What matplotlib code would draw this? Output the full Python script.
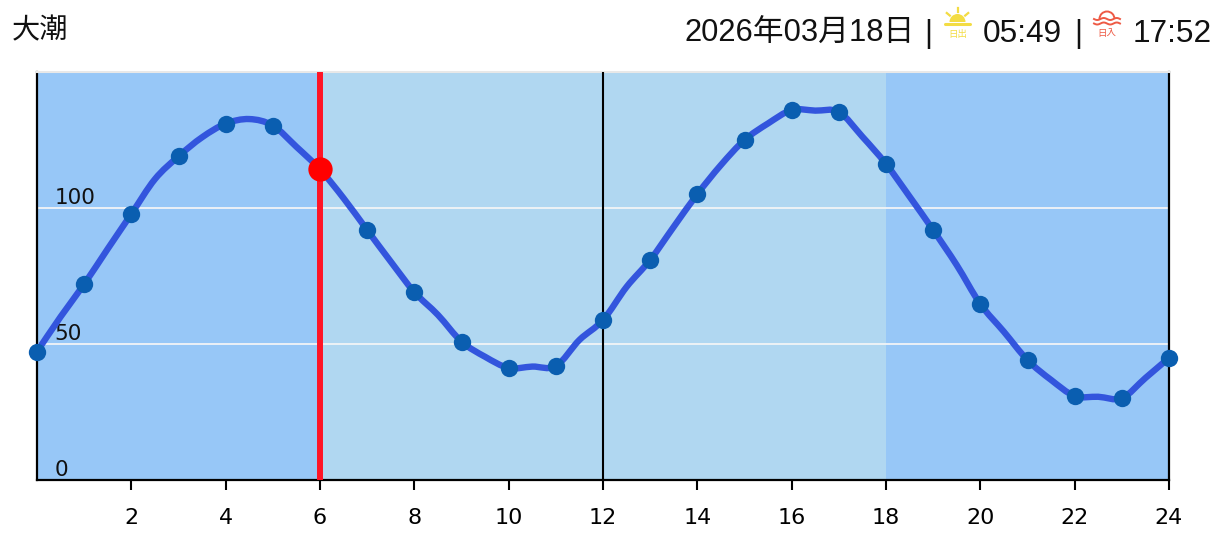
import matplotlib
matplotlib.use("Agg")
import matplotlib.pyplot as plt
from matplotlib.patches import Wedge, Arc, PathPatch
from matplotlib.path import Path
import numpy as np

W, H = 1226, 537

# tide level, every half hour from 0:00 to 24:00
half_hours = np.arange(0, 24.5, 0.5)
levels = [47.2, 60, 72, 85, 97.8, 110.6, 119, 126, 131, 132.7, 130.3, 122.5,
          114.2, 103.6, 91.9, 80.3, 69.1, 60.7, 50.9, 45.3, 41.2, 41.7, 41.9, 51.5,
          58.8, 71, 80.9, 93.1, 105.1, 115.8, 125, 131.1, 136, 135.8, 135.3, 126.2,
          116.2, 104.2, 91.9, 79, 64.7, 54.5, 44.1, 36.8, 30.9, 30.6, 30.1, 37.5, 44.9]
now_hour = 6
now_level = 114.2
day_start = 6
day_end = 18
x_ticks = list(range(2, 25, 2))
y_labels = [0, 50, 100]

title = "大潮"
date_text = "2026年03月18日"
sunrise = "05:49"
sunset = "17:52"

NIGHT = "#97c7f7"
DAY = "#b0d7f1"
LINE = "#3355dd"
DOT = "#0a5eb0"
RED = "#ff1426"
FONT = ["Liberation Sans", "Noto Sans CJK JP"]


# curved path through the points, the reference line is rounded like this
def smooth_path(xs, ys):
    pts = np.column_stack([xs, ys])
    verts = [pts[0]]
    codes = [Path.MOVETO]
    for i in range(len(pts) - 1):
        p0 = pts[max(i - 1, 0)]
        p1 = pts[i]
        p2 = pts[i + 1]
        p3 = pts[min(i + 2, len(pts) - 1)]
        verts += [p1 + (p2 - p0) / 6, p2 - (p3 - p1) / 6, p2]
        codes += [Path.CURVE4, Path.CURVE4, Path.CURVE4]
    return Path(verts, codes)


fig = plt.figure(figsize=(W / 100, H / 100), dpi=100)
ax = fig.add_axes([37 / W, (H - 480) / H, 1132 / W, 408 / H])
ax.set_xlim(0, 24)
ax.set_ylim(0, 150)

# background bands
ax.axvspan(0, 24, color=NIGHT, lw=0, zorder=0)
ax.axvspan(day_start, day_end, color=DAY, lw=0, zorder=1)

for v in y_labels[1:]:
    ax.axhline(v, color="#f2f4f6", lw=1.3, zorder=2)

for v in y_labels:
    ax.annotate(str(v), (0, v), xytext=(12.5, 0), textcoords="offset points",
                fontsize=15.5, family="DejaVu Sans", color="#111111", va="bottom", zorder=3)

ax.axvline(12, color="black", lw=1.5, zorder=3)
ax.axvline(now_hour, color=RED, lw=4.3, zorder=4)

ax.add_patch(PathPatch(smooth_path(half_hours, levels), fill=False, edgecolor=LINE, lw=4.6, zorder=5))
ax.plot(half_hours[::2], levels[::2], "o", color=DOT, ms=12.5, mew=0, clip_on=False, zorder=6)
ax.plot([now_hour], [now_level], "o", color="#ff0000", ms=17.5, mew=0, zorder=7)

ax.set_xticks(x_ticks)
ax.set_yticks([])
ax.tick_params(axis="x", length=7, width=1.5, pad=13.5, labelsize=16)
for name in ["left", "right", "bottom"]:
    ax.spines[name].set_linewidth(1.6)
ax.spines["top"].set_color("#e8e8e8")
ax.spines["top"].set_linewidth(1.5)

# overlay in pixel coordinates for the header
top = fig.add_axes([0, 0, 1, 1])
top.set_xlim(0, W)
top.set_ylim(H, 0)
top.axis("off")
top.patch.set_alpha(0)

top.text(12, 30, title, fontsize=20.3, family="Noto Sans CJK JP", color="#111111", va="center")
top.text(684, 42, date_text, fontsize=22.2, family=FONT, color="#111111", va="baseline")
top.text(928, 42, "|", fontsize=22, family=FONT, color="#111111", va="baseline", ha="center")
top.text(983, 42, sunrise, fontsize=22.8, family=FONT, color="#111111", va="baseline")
top.text(1078, 42, "|", fontsize=22, family=FONT, color="#111111", va="baseline", ha="center")
top.text(1133, 42, sunset, fontsize=22.8, family=FONT, color="#111111", va="baseline")

# sunrise icon
SUN = "#f3dc43"
top.add_patch(Wedge((957.5, 22), 8, 180, 360, color=SUN, lw=0))
top.plot([945, 970], [23.5, 23.5], color=SUN, lw=2.2, solid_capstyle="round")
for a in [90, 40, 140]:
    r = np.radians(a)
    top.plot([957.5 + 10 * np.cos(r), 957.5 + 14 * np.cos(r)],
             [22 - 10 * np.sin(r), 22 - 14 * np.sin(r)], color=SUN, lw=1.6)
top.text(957.5, 34, "日出", fontsize=6.8, family="Noto Sans CJK JP", color=SUN, ha="center", va="center")

# sunset icon
SET = "#ee5a45"
top.add_patch(Arc((1107, 19), 15, 15, theta1=180, theta2=360, color=SET, lw=1.4))
wave_x = np.linspace(1094, 1120, 60)
for y0 in [19, 23.5]:
    top.plot(wave_x, y0 + 1 * np.sin((wave_x - 1094) / 26 * 4 * np.pi), color=SET, lw=1.4)
top.text(1107, 33.5, "日入", fontsize=6.8, family="Noto Sans CJK JP", color=SET, ha="center", va="center")

fig.savefig("out.png", dpi=100)
